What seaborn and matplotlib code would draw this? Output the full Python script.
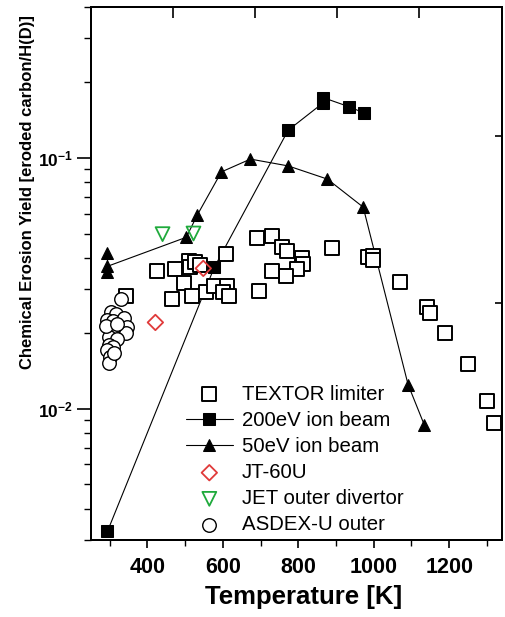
import numpy as np
import matplotlib
matplotlib.use("Agg")
import matplotlib.pyplot as plt
import seaborn as sns
from matplotlib.ticker import MultipleLocator, LogLocator, NullFormatter, FuncFormatter, FixedLocator

# ─────────────────────────────────────────
# DATA
# ─────────────────────────────────────────

textor_T = [344, 426, 474, 511, 514, 527, 538, 607, 498, 466, 517, 554, 577, 612, 601, 617,
            691, 731, 758, 771, 811, 813, 797, 768, 731, 697, 890, 985, 999, 999,
            1070, 1142, 1150, 1189, 1250, 1301, 1319]
textor_Y = [0.0283, 0.0353, 0.0360, 0.0387, 0.0366, 0.0384, 0.0373, 0.0413, 0.0316, 0.0275,
            0.0283, 0.0291, 0.0310, 0.0310, 0.0291, 0.0281,
            0.0479, 0.0488, 0.0441, 0.0425, 0.0398, 0.0377, 0.0360, 0.0337, 0.0353, 0.0296,
            0.0437, 0.0402, 0.0406, 0.0391,
            0.0319, 0.0254, 0.0242, 0.0201, 0.0151, 0.0107, 0.0088]

ion200_T = [294, 577, 773, 866, 866, 935, 975]
ion200_Y = [0.00325, 0.0366, 0.129, 0.166, 0.174, 0.160, 0.151]

ion50_T = [294, 294, 294, 503, 532, 596, 673, 773, 877, 972, 1091, 1134]
ion50_Y = [0.0417, 0.035, 0.037, 0.0483, 0.0592, 0.088, 0.099, 0.093, 0.0824, 0.0637,
           0.0125, 0.00863]

jt60_T = [421, 548]
jt60_Y = [0.0221, 0.0363]

jet_T = [440, 522]
jet_Y = [0.0497, 0.0500]

asdex_T = [330, 302, 316, 294, 308, 338, 345, 305, 297, 342, 318, 297, 308, 294, 300, 297,
           291, 320, 312]
asdex_Y = [0.0273, 0.0244, 0.0238, 0.0227, 0.0223, 0.0231, 0.0211, 0.0207, 0.0194, 0.0201,
           0.0189, 0.0180, 0.0177, 0.0172, 0.0161, 0.0153, 0.0213, 0.0217, 0.0167]

# odd ticks on the top / right frame of the original
top_ticks = [467, 685, 902, 1120]
right_ticks = [0.1225, 0.0263]

# ─────────────────────────────────────────
# STYLE
# ─────────────────────────────────────────

sns.set_style("ticks")
plt.rcParams["font.family"] = ["Liberation Sans", "DejaVu Sans"]
plt.rcParams["mathtext.fontset"] = "custom"
plt.rcParams["mathtext.rm"] = "Liberation Sans"
plt.rcParams["mathtext.bf"] = "Liberation Sans:bold"
plt.rcParams["axes.linewidth"] = 1.4
for key in ["text.color", "axes.labelcolor", "xtick.color", "ytick.color", "axes.edgecolor"]:
    plt.rcParams[key] = "black"

fig = plt.figure(figsize=(5.05, 6.17), dpi=100)
ax = fig.add_axes([0.180, 0.1248, 0.814, 0.8639])
ax.set_yscale("log")

# ─────────────────────────────────────────
# PLOT
# ─────────────────────────────────────────

sns.lineplot(x=ion200_T, y=ion200_Y, sort=False, estimator=None, ax=ax,
             color="black", linewidth=0.8, marker="s", markersize=8,
             markeredgecolor="black", label="200eV ion beam", zorder=2)
sns.lineplot(x=ion50_T, y=ion50_Y, sort=False, estimator=None, ax=ax,
             color="black", linewidth=0.8, marker="^", markersize=8,
             markeredgecolor="black", label="50eV ion beam", zorder=2)

sns.scatterplot(x=textor_T, y=textor_Y, ax=ax, marker="s", s=90, color="black",
                facecolor="white", edgecolor="black", linewidth=1.4,
                label="TEXTOR limiter", zorder=3)
sns.scatterplot(x=asdex_T, y=asdex_Y, ax=ax, marker="o", s=95, color="black",
                facecolor="white", edgecolor="black", linewidth=1.0,
                label="ASDEX-U outer", zorder=4)
sns.scatterplot(x=jt60_T, y=jt60_Y, ax=ax, marker="D", s=62, color="#e03a3a",
                facecolor="none", edgecolor="#e03a3a", linewidth=1.3,
                label="JT-60U", zorder=5)
sns.scatterplot(x=jet_T, y=jet_Y, ax=ax, marker="v", s=100, color="#1faa3c",
                facecolor="none", edgecolor="#1faa3c", linewidth=1.3,
                label="JET outer divertor", zorder=5)

ax.set_xlim(250, 1340)
ax.set_ylim(0.003, 0.4)

# ─────────────────────────────────────────
# AXES / TICKS
# ─────────────────────────────────────────

ax.xaxis.set_major_locator(MultipleLocator(200))
ax.xaxis.set_minor_locator(MultipleLocator(100))
ax.yaxis.set_major_locator(LogLocator(base=10))
ax.yaxis.set_minor_locator(LogLocator(base=10, subs=np.arange(2, 10)))
ax.yaxis.set_minor_formatter(NullFormatter())
ax.yaxis.set_major_formatter(FuncFormatter(
    lambda v, p: r"$\mathbf{10^{%d}}$" % round(np.log10(v))))

ax.tick_params(axis="x", which="major", direction="out", length=6, width=1.2,
               labelsize=15.5, pad=6, top=False)
ax.tick_params(axis="x", which="minor", direction="out", length=4, width=1.0, top=False)
ax.tick_params(axis="y", which="major", direction="out", length=10, width=1.2,
               labelsize=12.5, pad=3, right=False)
ax.tick_params(axis="y", which="minor", direction="out", length=5, width=1.0, right=False)
for lab in ax.get_xticklabels():
    lab.set_fontweight("bold")

ax.set_xlabel("Temperature [K]", fontsize=18.5, fontweight="bold")
ax.xaxis.set_label_coords(0.518, -0.085)
ax.set_ylabel("Chemical Erosion Yield [eroded carbon/H(D)]", fontsize=12,
              fontweight="bold",
              family=["Liberation Sans Narrow", "Liberation Sans", "DejaVu Sans"])
ax.yaxis.set_label_coords(-0.137, 0.653)

ax_top = ax.twiny()
ax_top.set_xlim(ax.get_xlim())
ax_top.xaxis.set_major_locator(FixedLocator(top_ticks))
ax_top.tick_params(axis="x", direction="in", length=8, width=1.2, labeltop=False)

ax_right = ax.twinx()
ax_right.set_yscale("log")
ax_right.set_ylim(ax.get_ylim())
ax_right.yaxis.set_major_locator(FixedLocator(right_ticks))
ax_right.yaxis.set_minor_locator(FixedLocator([]))
ax_right.tick_params(axis="y", direction="in", length=5, width=1.2, labelright=False)

# ─────────────────────────────────────────
# LEGEND
# ─────────────────────────────────────────

handles, labels = ax.get_legend_handles_labels()
lookup = dict(zip(labels, handles))
order = ["TEXTOR limiter", "200eV ion beam", "50eV ion beam", "JT-60U",
         "JET outer divertor", "ASDEX-U outer"]
ax.legend([lookup[k] for k in order], order, loc="upper left",
          bbox_to_anchor=(0.231, 0.2915), frameon=False, fontsize=14.7,
          handlelength=2.3, handletextpad=0.45, labelspacing=0.35,
          borderpad=0, borderaxespad=0)

plt.savefig("out.png", dpi=100)
